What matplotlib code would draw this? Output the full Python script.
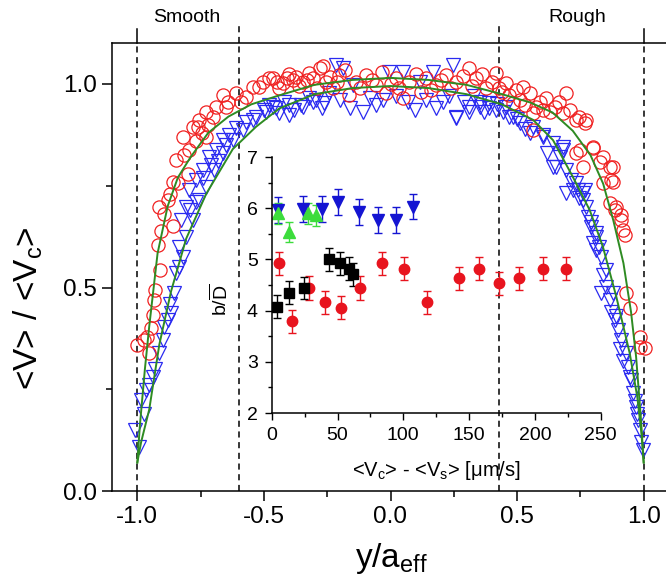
import matplotlib
matplotlib.use("Agg")
import matplotlib.pyplot as plt
from matplotlib.ticker import MultipleLocator

plt.rcParams['font.family'] = ['Liberation Sans', 'DejaVu Sans']
plt.rcParams['mathtext.fontset'] = 'custom'
plt.rcParams['mathtext.rm'] = 'Liberation Sans'
plt.rcParams['mathtext.it'] = 'Liberation Sans:italic'

# ---- main panel: normalized velocity profiles ----
circ_x = [-1.0, -0.96, -0.955, -0.94, -0.929, -0.91, -0.92, -0.858, -0.913, -0.88, -0.84, -0.847,
          -0.814, -0.80, -0.76, -0.73, -0.70, -0.65, -0.61, -0.57, -0.52, -0.48,
          -0.59, -0.544, -0.505, -0.465, -0.426, -0.373, -0.32, -0.268, -0.24, -0.663, -0.689,
          -0.728, -0.755, -0.78, -0.82, -0.794,
          -0.45, -0.41, -0.386, -0.347, -0.307, -0.28, -0.254, -0.228, -0.202, -0.162, -0.136,
          -0.096, -0.057, -0.017, 0.022, 0.049, 0.075, 0.121, 0.141, 0.181, 0.22, 0.26, 0.312,
          0.339, 0.378, 0.40, 0.44, 0.47,
          0.418, 0.457, 0.523, 0.615, 0.695, 0.708, 0.773, 0.734, 0.576, 0.55, 0.497, 0.80,
          0.84, 0.866, 0.872, 0.76, 0.734, 0.892, 0.912, 0.918,
          0.483, 0.53, 0.563, 0.602, 0.648, 0.68, 0.745, 0.767, 0.563, 0.747, 0.80, 0.826,
          0.879, 0.879, 0.84, 0.866, 0.885, 0.912, 0.925, 0.932, 0.945, 0.984, 1.004, 0.984,
          -0.44, -0.40, -0.36, -0.33, -0.29, -0.21, -0.18, -0.12, -0.075, -0.035, 0.0, 0.035,
          0.10, 0.16, 0.20, 0.24, 0.285, 0.32, 0.36, 0.43, 0.51, 0.59, 0.63, 0.665, -0.64,
          -0.72, -0.745, -0.77, -0.86, -0.87, -0.895, -0.905, -0.935, -0.945, -0.975]
circ_y = [0.359, 0.379, 0.339, 0.432, 0.494, 0.543, 0.604, 0.651, 0.698, 0.715, 0.756, 0.813,
          0.826, 0.78, 0.895, 0.87, 0.92, 0.944, 0.977, 0.969, 0.993, 1.014,
          0.957, 0.993, 1.006, 1.014, 1.002, 1.018, 1.026, 1.043, 1.018, 0.973, 0.944,
          0.932, 0.912, 0.895, 0.87, 0.838,
          1.006, 1.014, 1.01, 1.006, 1.014, 1.039, 1.006, 0.989, 1.022, 0.973, 1.006,
          1.022, 0.998, 0.977, 1.014, 0.965, 1.006, 0.981, 1.014, 0.998, 1.022, 1.006, 1.039,
          1.014, 0.989, 1.006, 0.981, 0.973,
          1.026, 1.002, 0.993, 0.965, 0.977, 0.936, 0.912, 0.912, 0.944, 0.977, 0.985, 0.846,
          0.821, 0.797, 0.764, 0.797, 0.83, 0.698, 0.666, 0.641,
          0.953, 0.948, 0.928, 0.936, 0.944, 0.928, 0.92, 0.903, 0.887, 0.838, 0.842, 0.809,
          0.797, 0.76, 0.756, 0.707, 0.69, 0.678, 0.629, 0.486, 0.449, 0.379, 0.351, 0.355,
          0.99, 1.025, 0.995, 1.01, 0.99, 1.005, 1.035, 0.99, 1.01, 1.03, 1.0, 0.99,
          1.025, 0.985, 1.01, 0.99, 1.02, 0.995, 1.025, 0.99, 0.96, 0.955, 0.93, 0.955, 0.955,
          0.90, 0.88, 0.86, 0.76, 0.73, 0.68, 0.64, 0.47, 0.40, 0.37]

tri_x = [-0.995, -1.01, -0.985, -0.966, -0.94, -0.913, -0.893, -0.867, -0.854, -0.847, -0.82,
         -0.807, -0.78, -0.755, -0.728, -0.696, -0.663, -0.623, -0.584, -0.544, -0.498, -0.465,
         -0.571, -0.531, -0.491, -0.452, -0.399, -0.347, -0.294, -0.241, -0.61, -0.636, -0.663,
         -0.689, -0.715, -0.742, -0.768, -0.794, -0.807, -0.827,
         -0.478, -0.439, -0.40, -0.353, -0.307, -0.261, -0.215, -0.189, -0.109, -0.057, -0.004,
         0.049, 0.095, 0.167, 0.207, 0.246, 0.26, 0.312, 0.352, 0.391, 0.444, 0.483, -0.149, 0.115,
         0.26, 0.312, 0.352, 0.391, 0.418, 0.47, 0.51, 0.55, 0.602, 0.642, 0.681, 0.695, 0.734,
         0.773, 0.76, 0.813,
         0.457, 0.563, 0.602, 0.642, 0.681, 0.655, 0.695, 0.714, 0.74, 0.767, 0.76, 0.78, 0.793,
         0.813, 0.813, 0.833, 0.853, 0.853, 0.833, 0.879, 0.885, 0.899, 0.912, 0.932, 0.938,
         0.951, 0.958, 0.971, 0.978, 0.984, 0.997,
         -0.42, -0.38, -0.32, -0.27, -0.20, -0.16, -0.08, -0.03, 0.02, 0.07, 0.14, 0.18, 0.23,
         0.29, 0.33, 0.37, 0.42, 0.50, 0.53, -0.87, -0.88, -0.90, -0.93, -0.955, -0.975, -0.835,
         -0.835, -0.79, -0.77, -0.74, -0.71, -0.68, -0.65, 0.62, 0.67, 0.72, 0.745, 0.79, 0.80,
         0.825, 0.84, 0.865, 0.87, 0.89, 0.905, 0.92, 0.945, 0.965, 0.975, 0.99]
tri_y = [0.109, 0.15, 0.224, 0.248, 0.281, 0.338, 0.404, 0.437, 0.486, 0.535, 0.576,
         0.625, 0.666, 0.715, 0.748, 0.789, 0.83, 0.862, 0.887, 0.912, 0.936, 0.944,
         0.907, 0.92, 0.932, 0.94, 0.924, 0.944, 0.961, 0.977, 0.891, 0.875, 0.862,
         0.838, 0.821, 0.789, 0.764, 0.74, 0.698, 0.666,
         0.948, 0.928, 0.948, 0.948, 0.957, 0.953, 1.047, 1.039, 0.932, 0.948, 1.03,
         1.03, 0.936, 1.03, 0.957, 1.047, 0.916, 0.932, 0.957, 0.94, 0.932, 0.92, 0.998, 1.006,
         0.92, 0.944, 0.944, 0.953, 0.936, 0.92, 0.903, 0.879, 0.871, 0.797, 0.846, 0.731, 0.756,
         0.698, 0.731, 0.633,
         0.944, 0.895, 0.875, 0.854, 0.838, 0.797, 0.789, 0.764, 0.74, 0.74, 0.715, 0.674, 0.649,
         0.625, 0.592, 0.576, 0.543, 0.502, 0.486, 0.486, 0.42, 0.396, 0.371, 0.338, 0.305,
         0.273, 0.24, 0.207, 0.174, 0.15, 0.101,
         0.955, 0.935, 0.965, 0.94, 0.96, 0.94, 0.965, 0.96, 0.97, 0.955, 0.96, 0.94, 0.97,
         0.955, 0.97, 0.93, 0.95, 0.915, 0.89, 0.46, 0.42, 0.37, 0.30, 0.26, 0.19, 0.55,
         0.60, 0.69, 0.71, 0.77, 0.80, 0.81, 0.85, 0.83, 0.82, 0.74, 0.72, 0.66, 0.61,
         0.60, 0.53, 0.47, 0.44, 0.43, 0.35, 0.32, 0.28, 0.22, 0.19, 0.12]

# fitted profiles
fit1_x = [-1.0, -0.99, -0.97, -0.953, -0.92, -0.88, -0.84, -0.79, -0.72, -0.64, -0.55, -0.44,
          -0.3, -0.15, 0.0, 0.15, 0.3, 0.44, 0.55, 0.64, 0.72, 0.79, 0.84, 0.88, 0.92, 0.95,
          0.97, 0.99, 1.0]
fit1_y = [0.07, 0.16, 0.30, 0.404, 0.584, 0.70, 0.77, 0.82, 0.88, 0.92, 0.95, 0.972, 0.998,
          1.01, 1.015, 1.01, 0.998, 0.975, 0.955, 0.93, 0.885, 0.825, 0.755, 0.665, 0.56, 0.44,
          0.33, 0.17, 0.07]
fit2_x = [-1.0, -0.985, -0.953, -0.913, -0.867, -0.807, -0.728, -0.623, -0.531, -0.439, -0.3,
          -0.15, 0.0, 0.15, 0.3, 0.44, 0.563, 0.642, 0.72, 0.787, 0.839, 0.892, 0.945, 0.975,
          0.991, 1.0]
fit2_y = [0.07, 0.12, 0.20, 0.36, 0.49, 0.62, 0.73, 0.84, 0.895, 0.94, 0.975, 0.99, 0.995,
          0.99, 0.975, 0.95, 0.912, 0.862, 0.772, 0.69, 0.60, 0.477, 0.338, 0.23, 0.142, 0.07]

boundary_outer = [-1.0, 1.0]
boundary_inner = [-0.6, 0.43]

# ---- inset: b / D-bar versus velocity difference ----
red_x = [5.6, 15.2, 28.4, 40.5, 52.7, 67.4, 84.1, 100.8, 118.3, 142.6, 157.8, 173.0, 188.2, 205.9, 223.7]
red_y = [4.92, 3.79, 4.44, 4.16, 4.06, 4.44, 4.92, 4.82, 4.16, 4.63, 4.82, 4.53, 4.63, 4.82, 4.82]
red_err = 0.23
blk_x = [3.8, 13.4, 24.6, 43.3, 51.9, 59.0, 62.1]
blk_y = [4.08, 4.35, 4.44, 5.0, 4.92, 4.82, 4.71]
blk_err = 0.22
blu_x = [5.1, 24.1, 38.0, 50.7, 66.6, 81.0, 94.2, 107.1]
blu_y = [5.96, 5.99, 5.99, 6.12, 5.93, 5.77, 5.77, 6.03]
blu_err = 0.25
grn_x = [5.1, 13.4, 27.9, 33.7]
grn_y = [5.9, 5.54, 5.9, 5.86]
grn_err = 0.2

W, H = 666, 584
fig = plt.figure(figsize=(W / 100, H / 100), dpi=100)


def box(l, t, r, b):
    return [l / W, 1 - b / H, (r - l) / W, (b - t) / H]


ax = fig.add_axes(box(112, 43.3, 669, 491))
ax.set_xlim(-1.1, 1.1)
ax.set_ylim(0, 1.1)

for xv in boundary_outer + boundary_inner:
    ax.axvline(xv, color='black', lw=1.1, ls=(0, (4, 3)), zorder=1)
for xv in boundary_outer:
    ax.plot([xv, xv], [1.1, 1.1 + 14 / 407], color='black', lw=1.1, clip_on=False)
for xv in boundary_inner:
    ax.plot([xv, xv], [1.1, 1.1 + 21 / 407], color='black', lw=1.1, ls=(0, (4, 3)), clip_on=False)

ax.plot(tri_x, tri_y, ls='none', marker='v', ms=9.5, mfc='none', mec='#2a2af0', mew=0.9, zorder=2)
ax.plot(circ_x, circ_y, ls='none', marker='o', ms=9.5, mfc='none', mec='#f02020', mew=0.9, zorder=3)
ax.plot(fit2_x, fit2_y, color='#2e8b22', lw=1.4, zorder=4)
ax.plot(fit1_x, fit1_y, color='#2e8b22', lw=1.4, zorder=4)

ax.xaxis.set_major_locator(MultipleLocator(0.5))
ax.xaxis.set_minor_locator(MultipleLocator(0.25))
ax.yaxis.set_major_locator(MultipleLocator(0.5))
ax.yaxis.set_minor_locator(MultipleLocator(0.25))
ax.tick_params(which='both', direction='out', top=False, right=False, width=1.1)
ax.tick_params(which='major', length=7, labelsize=17.5, pad=4)
ax.tick_params(which='minor', length=4)
ax.set_xticks([-1.0, -0.5, 0.0, 0.5, 1.0])
ax.set_xticklabels(['-1.0', '-0.5', '0.0', '0.5', '1.0'])
for sp in ax.spines.values():
    sp.set_linewidth(1.1)

fig.text(28 / W, 1 - 308 / H, r'<V> / <V$_{\rm c}$>', rotation=90, ha='center', va='center', fontsize=24)
fig.text(391 / W, 1 - 558 / H, r'y/a$_{\rm eff}$', ha='center', va='center', fontsize=24)
fig.text(187 / W, 1 - 17 / H, 'Smooth', ha='center', va='center', fontsize=14)
fig.text(577 / W, 1 - 17 / H, 'Rough', ha='center', va='center', fontsize=14)

# inset
ins = fig.add_axes(box(271.7, 157, 600.7, 413))
ins.patch.set_alpha(0)
ins.set_xlim(0, 250)
ins.set_ylim(2, 7)
for sp in ['top', 'right']:
    ins.spines[sp].set_visible(False)
for sp in ['left', 'bottom']:
    ins.spines[sp].set_linewidth(1.1)

ek = dict(ls='none', capsize=3, elinewidth=1.0, capthick=1.0)
ins.errorbar(red_x, red_y, yerr=red_err, marker='o', ms=7.5, color='#e8141e', **ek)
ins.errorbar(blk_x, blk_y, yerr=blk_err, marker='s', ms=7, color='black', **ek)
ins.errorbar(blu_x, blu_y, yerr=blu_err, marker='v', ms=8.5, color='#1414d2', **ek)
ins.errorbar(grn_x, grn_y, yerr=grn_err, marker='^', ms=8.5, color='#3cdc3c', **ek)

ins.xaxis.set_major_locator(MultipleLocator(50))
ins.xaxis.set_minor_locator(MultipleLocator(25))
ins.yaxis.set_major_locator(MultipleLocator(1))
ins.yaxis.set_minor_locator(MultipleLocator(0.5))
ins.tick_params(which='both', direction='out', width=1.0)
ins.tick_params(which='major', length=5, labelsize=14, pad=5)
ins.tick_params(which='minor', length=3)

fig.text(436 / W, 1 - 470 / H, r'<V$_{\rm c}$> - <V$_{\rm s}$> [μm/s]', ha='center', va='center', fontsize=14.5)
fig.text(220 / W, 1 - 300 / H, r'b/$\overline{\rm D}$', rotation=90, ha='center', va='center', fontsize=14)

fig.savefig('out.png', dpi=100)
